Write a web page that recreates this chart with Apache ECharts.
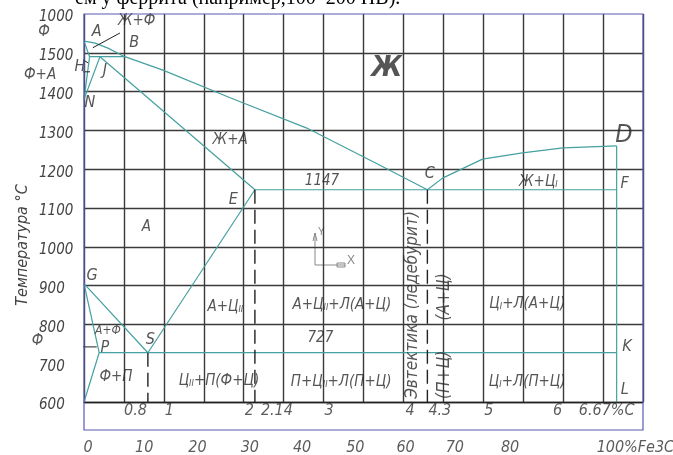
<!DOCTYPE html>
<html>
<head>
<meta charset="utf-8">
<script src="https://cdn.jsdelivr.net/npm/echarts@6/dist/echarts.min.js"></script>
<style>
html,body{margin:0;padding:0;background:#fff;}
#chart{width:673px;height:455px;}
</style>
</head>
<body>
<div id="chart"></div>
<script>
// Iron–cementite (Fe–Fe3C) phase diagram: carbon, % on x, temperature, °C on y

// ---- axis ticks ----
const tempTicks = [600, 700, 800, 900, 1000, 1100, 1200, 1300, 1400, 1500, 1600];
const tempTickText = ['600', '700', '800', '900', '1000', '1100', '1200', '1300', '1400', '1500', '1000'];
const carbonTicks = [0.8, 1, 2, 2.14, 3, 4, 4.3, 5, 6, 6.67];
const carbonTickText = ['0.8', '1', '2', '2.14', '3', '4', '4.3', '5', '6', '6.67%C'];
const cementiteTicks = [0, 10, 20, 30, 40, 50, 60, 70, 80, 100];
const cementiteTickText = ['0', '10', '20', '30', '40', '50', '60', '70', '80', '100%Fe3C'];
const carbonInCementite = 6.67;

// ---- phase boundaries, [C %, T °C] ----
const liquidusABC = [[0, 1530], [0.14, 1525], [0.30, 1512], [0.51, 1490], [0.98, 1456], [1.83, 1384], [2.79, 1306], [3.70, 1211], [4.3, 1147]];
const liquidusCD = [[4.3, 1147], [4.49, 1177], [4.99, 1226], [5.49, 1242], [6.0, 1255], [6.67, 1260]];
const solidusAH = [[0, 1530], [0.07, 1490]];
const peritecticHJB = [[0.07, 1490], [0.51, 1490]];
const lineHN = [[0.07, 1490], [0, 1380]];
const lineJN = [[0.2, 1490], [0, 1380]];
const solidusJE = [[0.2, 1490], [2.14, 1147]];
const eutecticECF = [[2.14, 1147], [6.67, 1147]];
const lineDFKL = [[6.67, 1260], [6.67, 600]];
const lineGS = [[0, 905], [0.8, 727]];
const lineGP = [[0, 905], [0.19, 727]];
const linePQ = [[0.19, 727], [0, 600]];
const lineSE = [[0.8, 727], [2.14, 1147]];
const eutectoidPSK = [[0.19, 727], [6.67, 727]];
const dropS = [[0.8, 727], [0.8, 600]];
const dropE = [[2.14, 1147], [2.14, 600]];
const dropC = [[4.3, 1147], [4.3, 600]];

// ---- leader lines ----
const leaderLiquidFerrite = [[0.45, 1551], [0.11, 1513]];
const leaderFerriteAustenite = [[-0.30, 1451], [0.075, 1451]];
const leaderDeltaFerrite = [[-0.36, 1528], [0.05, 1474]];
const leaderAlphaFerrite = [[-0.39, 742], [0.16, 742]];

// ---- point letters and phase fields: text, C %, T °C ----
const pointNames = ['A', 'B', 'H', 'J', 'N', 'C', 'D', 'F', 'E', 'G', 'P', 'S', 'K', 'L'];
const pointAnchors = [[0.16, 1554], [0.63, 1525], [-0.05, 1463], [0.26, 1453], [0.075, 1371], [4.33, 1188], [6.76, 1286], [6.77, 1162], [1.87, 1121], [0.10, 925], [0.26, 739], [0.83, 760], [6.80, 742], [6.77, 631]];
const fieldNames = ['Ж+Ф', 'Ж', 'Ж+A', '1147', 'Ж+Ц{s|I}', 'A', 'A+Ф', 'Ф+П', 'A+Ц{s|II}', 'Ц{s|II}+П(Ф+Ц)', 'A+Ц{s|II}+Л(A+Ц)', '727', 'П+Ц{s|II}+Л(П+Ц)', 'Ц{s|I}+Л(A+Ц)', 'Ц{s|I}+Л(П+Ц)', 'Ф', 'Ф+A', 'Ф'];
const fieldAnchors = [[0.66, 1582], [3.79, 1458], [1.83, 1275], [2.98, 1170], [5.69, 1167], [0.78, 1051], [0.30, 783], [0.40, 664], [1.77, 845], [1.69, 654], [3.23, 850], [2.96, 765], [3.22, 652], [5.55, 853], [5.55, 652], [-0.50, 1554], [-0.55, 1443], [-0.58, 757]];
const verticalNames = ['Эвтектика (ледебурит)', '(A+Ц)', '(П+Ц)'];
const verticalAnchors = [[4.11, 850], [4.52, 871], [4.52, 670]];

// ---- layout ----
const G = { left: 84, top: 14, width: 559, height: 388 };
const FONT = "'Liberation Sans Narrow','DejaVu Sans Condensed','Liberation Sans',sans-serif";
const TEAL = '#45a0a0';
const INK = '#2a2a2a';
const GRIDC = '#3a3a3a';
const FRAME = '#5a5ab4';

const carbonAlign = ['right', 'left', 'left', 'left', 'left', 'left', 'left', 'left', 'right', 'center'];
const carbonShift = [-1, 1, 1, 6, 1, 2, 1, 1, -1, -10];
const cementiteAlign = ['center', 'center', 'center', 'center', 'center', 'center', 'center', 'center', 'center', 'left'];
const cementiteShift = [4, 7, 7, 6, 5, 5, 2, -2, 0, -20];

const baseText = { fontFamily: FONT, fontStyle: 'italic', color: INK };
const subRich = { s: { fontFamily: FONT, fontStyle: 'italic', color: INK, fontSize: 9, padding: [6, 0, 0, 0] } };

function boundary(data, style) {
  style = style || {};
  return {
    type: 'line', data: data, symbol: 'none', silent: true, clip: false, animation: false,
    z: style.z || 4,
    lineStyle: { color: style.color || TEAL, width: style.width || 1.2, type: style.type || 'solid' }
  };
}

function textSeries(items, label) {
  return {
    type: 'scatter', symbolSize: 0, silent: true, clip: false, animation: false, z: 6,
    data: items,
    label: Object.assign({ show: true, position: 'inside', formatter: p => p.name, rich: subRich }, baseText, label)
  };
}

const pointItems = pointNames.map((n, i) => {
  const it = { name: n, value: pointAnchors[i] };
  if (n === 'D') it.label = { fontSize: 25 };
  return it;
});
const fieldItems = fieldNames.map((n, i) => {
  const it = { name: n, value: fieldAnchors[i] };
  if (n === 'Ж') it.label = { fontSize: 28, fontWeight: 'bold' };
  if (n === 'A+Ф') it.label = { fontSize: 12 };
  if (n === 'Ф+A' || (n === 'Ф')) it.label = { fontSize: 15 };
  return it;
});
const verticalItems = verticalNames.map((n, i) => ({ name: n, value: verticalAnchors[i] }));
const carbonItems = carbonTicks.map((c, i) => ({
  name: carbonTickText[i], value: [c, 600],
  label: { align: carbonAlign[i], offset: [carbonShift[i], 9] }
}));
const cementiteItems = cementiteTicks.map((v, i) => ({
  name: cementiteTickText[i], value: [v * carbonInCementite / 100, 600],
  label: { align: cementiteAlign[i], offset: [cementiteShift[i], 46] }
}));

// y split lines: no line at 700, top edge belongs to the frame
const ySplitColors = tempTicks.map(t => (t === 700 || t === 1600) ? 'rgba(0,0,0,0)' : GRIDC);

const chart = echarts.init(document.getElementById('chart'));
chart.setOption({
  animation: false,
  backgroundColor: '#fff',
  grid: { left: G.left, top: G.top, width: G.width, height: G.height, containLabel: false },
  xAxis: {
    type: 'value', min: 0, max: 7, interval: 0.5,
    axisLine: { show: true, lineStyle: { color: '#222', width: 1.4 } },
    axisTick: { show: false }, axisLabel: { show: false },
    splitLine: { show: true, lineStyle: { color: GRIDC, width: 1.4 } }
  },
  yAxis: {
    type: 'value', min: 600, max: 1600, interval: 100,
    axisLine: { show: false }, axisTick: { show: false },
    axisLabel: {
      show: true, margin: 45, align: 'left', verticalAlign: 'middle',
      fontFamily: FONT, fontStyle: 'italic', fontSize: 15, color: '#444',
      formatter: v => '{t|' + tempTickText[tempTicks.indexOf(v)] + '}',
      rich: { t: { fontFamily: FONT, fontStyle: 'italic', fontSize: 15, color: '#444', padding: [7, 0, 0, 0] } }
    },
    splitLine: { show: true, lineStyle: { color: ySplitColors, width: 1.4 } }
  },
  series: [
    boundary(liquidusABC), boundary(liquidusCD), boundary(solidusAH), boundary(peritecticHJB),
    boundary(lineHN), boundary(lineJN), boundary(solidusJE), boundary(eutecticECF),
    boundary(lineDFKL), boundary(lineGS), boundary(lineGP), boundary(linePQ),
    boundary(lineSE), boundary(eutectoidPSK),
    boundary(dropS, { color: '#222', width: 1.4, type: [14, 6] }),
    boundary(dropE, { color: '#222', width: 1.4, type: [14, 6] }),
    boundary(dropC, { color: '#222', width: 1.4, type: [14, 6] }),
    boundary(leaderLiquidFerrite, { color: '#222', width: 1 }),
    boundary(leaderFerriteAustenite, { color: '#222', width: 1 }),
    boundary(leaderDeltaFerrite, { color: '#222', width: 1 }),
    boundary(leaderAlphaFerrite, { color: '#222', width: 1 }),
    textSeries(pointItems, { fontSize: 16 }),
    textSeries(fieldItems, { fontSize: 15 }),
    textSeries(verticalItems, { fontSize: 17, rotate: 90 }),
    textSeries(carbonItems, { fontSize: 16, color: '#333' }),
    textSeries(cementiteItems, { fontSize: 16, color: '#333' })
  ],
  graphic: [
    {
      type: 'rect', z: 10, silent: true,
      shape: { x: G.left, y: G.top, width: G.width, height: 416 },
      style: { fill: null, stroke: FRAME, lineWidth: 1.2 }
    },
    {
      type: 'text', z: 10, silent: true, x: 23, y: 245, rotation: Math.PI / 2,
      style: { text: 'Температура °С', font: "italic 16px 'Liberation Sans Narrow','DejaVu Sans Condensed',sans-serif", fill: '#444', align: 'center', verticalAlign: 'middle' }
    },
    {
      type: 'text', z: 10, silent: true, x: 75, y: 9,
      style: { text: 'ем у феррита (например,100–200 НВ).', font: "20px 'Liberation Serif','Times New Roman',serif", fill: '#000', align: 'left', verticalAlign: 'bottom' }
    },
    {
      // coordinate-system icon
      type: 'group', z: 9, silent: true, x: 315, y: 265,
      children: [
        { type: 'line', shape: { x1: 0, y1: 0, x2: 0, y2: -32 }, style: { stroke: '#888', lineWidth: 1 } },
        { type: 'line', shape: { x1: 0, y1: 0, x2: 30, y2: 0 }, style: { stroke: '#888', lineWidth: 1 } },
        { type: 'polyline', shape: { points: [[-2, -24], [0, -32], [2, -24]] }, style: { stroke: '#888', lineWidth: 1, fill: null } },
        { type: 'rect', shape: { x: 22, y: -2, width: 8, height: 4 }, style: { stroke: '#888', lineWidth: 1, fill: null } },
        { type: 'text', x: 3, y: -38, style: { text: 'Y', font: '10px sans-serif', fill: '#888' } },
        { type: 'text', x: 32, y: -10, style: { text: 'X', font: '12px sans-serif', fill: '#888' } }
      ]
    }
  ]
});
</script>
</body>
</html>
